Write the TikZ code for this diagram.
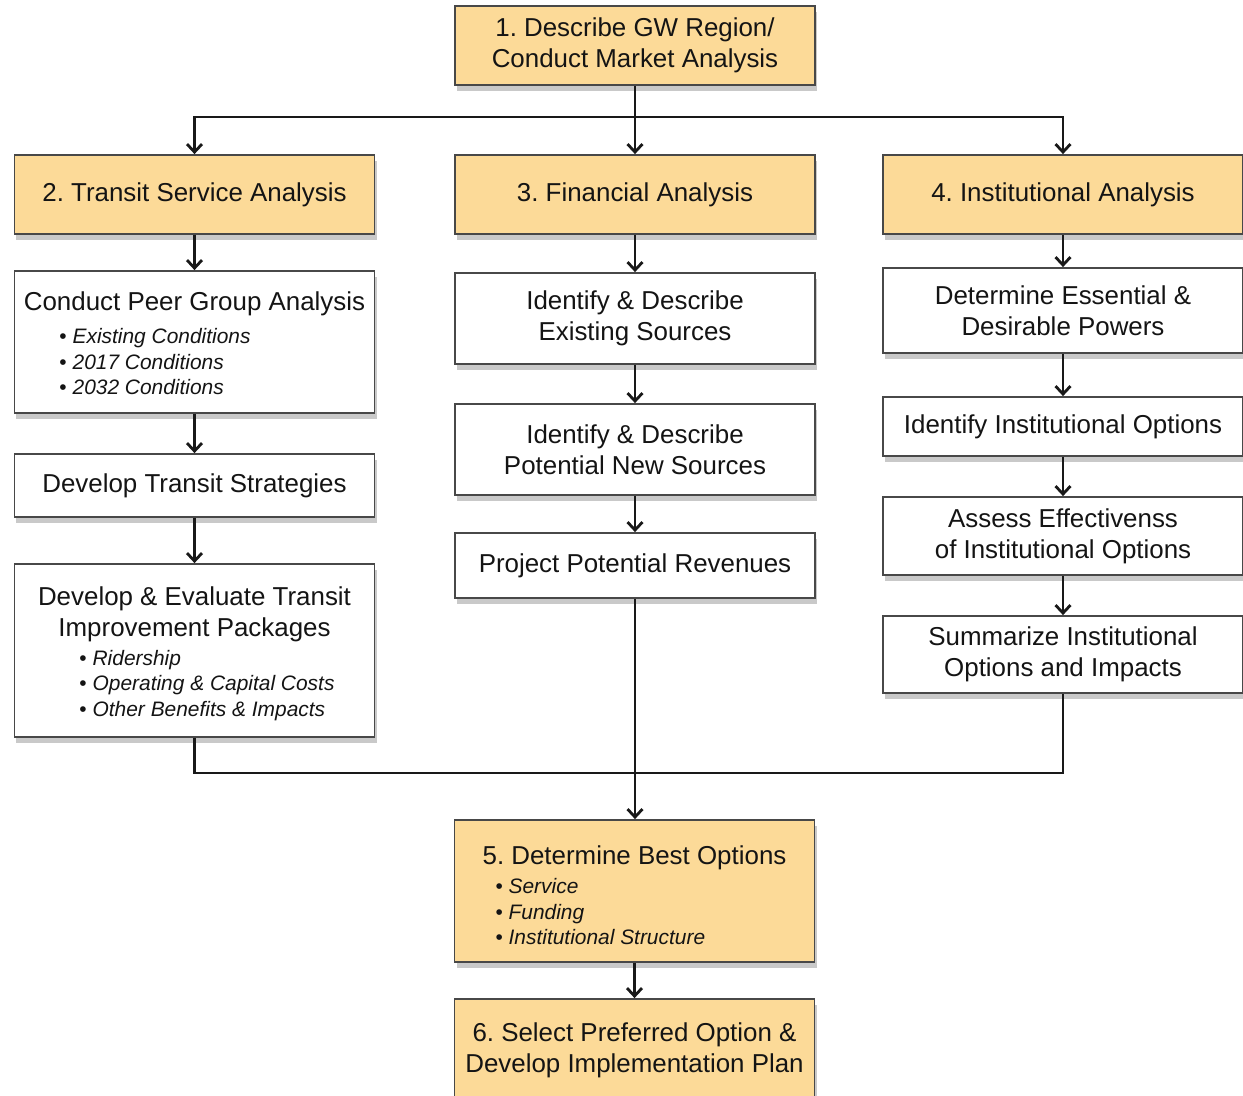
\documentclass[tikz,border=0pt]{standalone}
\usepackage{fontspec}
\setmainfont{Liberation Sans}
\usepackage{xcolor}
\usetikzlibrary{arrows.meta,shadows,shapes}

\definecolor{stepfill}{RGB}{252,218,152}
\definecolor{boxline}{RGB}{72,72,72}

\frenchspacing
\newcommand{\headline}[1]{\par\centerline{#1}}
\newcommand{\bulline}[2]{\par\hbox{\hspace*{#1}\textbullet\ \textit{#2}}}

\tikzset{
  box/.style={draw=boxline,line width=1.8bp,fill=white,rectangle,minimum width=360bp,inner sep=4bp,
    font=\fontsize{26}{31}\selectfont,text=black!92,align=center,
    drop shadow={shadow xshift=2bp,shadow yshift=-6bp,opacity=0.3,fill=black!70}},
  stepbox/.style={box,fill=stepfill},
  listbox/.style={box,text width=352bp,align=none},
  steplist/.style={listbox,fill=stepfill},
  flow/.style={line width=2.4bp,black!90},
  arr/.style={flow,-{Straight Barb[length=8bp,width=15bp,line width=2.8bp]}}
}

\begin{document}
\begin{tikzpicture}[x=1bp,y=-1bp]
\clip (0,0) rectangle (1243,1096);

\node (b1) at (635,45.5)[stepbox,minimum height=79bp] {1. Describe GW Region/\\Conduct Market Analysis};
\node (b2) at (194.5,194.5)[stepbox,minimum height=79bp] {2. Transit Service Analysis};
\node (b3) at (635,194.5)[stepbox,minimum height=79bp] {3. Financial Analysis};
\node (b4) at (1063,194.5)[stepbox,minimum height=79bp] {4. Institutional Analysis};

\node (t1) at (194.5,342)[listbox,minimum height=142bp] {\headline{Conduct Peer Group Analysis}
  \fontsize{21}{25.5}\selectfont\vspace{8bp}
  \bulline{41bp}{Existing Conditions}
  \bulline{41bp}{2017 Conditions}
  \bulline{41bp}{2032 Conditions}\par\vspace{10bp}};
\node (t2) at (194.5,485.5)[box,minimum height=63bp] {Develop Transit Strategies};
\node (t3) at (194.5,650.5)[listbox,minimum height=173bp] {\headline{Develop \& Evaluate Transit}
  \headline{Improvement Packages}
  \fontsize{21}{25.5}\selectfont\vspace{4bp}
  \bulline{61bp}{Ridership}
  \bulline{61bp}{Operating \& Capital Costs}
  \bulline{61bp}{Other Benefits \& Impacts}\par\vspace{6bp}};

\node (f1) at (635,318.5)[box,minimum height=91bp] {Identify \& Describe\\Existing Sources};
\node (f2) at (635,449.5)[box,minimum height=91bp] {Identify \& Describe\\Potential New Sources};
\node (f3) at (635,565.5)[box,minimum height=65bp] {Project Potential Revenues};

\node (i1) at (1063,310.5)[box,minimum height=85bp] {Determine Essential \&\\Desirable Powers};
\node (i2) at (1063,426.5)[box,minimum height=59bp] {Identify Institutional Options};
\node (i3) at (1063,536)[box,minimum height=78bp] {Assess Effectivenss\\of Institutional Options};
\node (i4) at (1063,654.5)[box,minimum height=77bp] {Summarize Institutional\\Options and Impacts};

\node (b5) at (634.5,891)[steplist,minimum height=142bp] {\headline{5. Determine Best Options}
  \fontsize{21}{25.5}\selectfont\vspace{4bp}
  \bulline{37bp}{Service}
  \bulline{37bp}{Funding}
  \bulline{37bp}{Institutional Structure}\par\vspace{4bp}};
\node (b6) at (634.5,1050)[stepbox,minimum height=102bp] {6. Select Preferred Option \&\\Develop Implementation Plan};

\coordinate (split) at (635,117);
\coordinate (join) at (635,773);

\draw [arr] (b1.south) -- (b3.north);
\draw [arr] (split) -| (b2.north);
\draw [arr] (split) -| (b4.north);
\draw [arr] (b2.south) -- (t1.north);
\draw [arr] (t1.south) -- (t2.north);
\draw [arr] (t2.south) -- (t3.north);
\draw [arr] (b3.south) -- (f1.north);
\draw [arr] (f1.south) -- (f2.north);
\draw [arr] (f2.south) -- (f3.north);
\draw [arr] (b4.south) -- (i1.north);
\draw [arr] (i1.south) -- (i2.north);
\draw [arr] (i2.south) -- (i3.north);
\draw [arr] (i3.south) -- (i4.north);
\draw [flow] (t3.south) |- (join) -| (i4.south);
\draw [arr] (f3.south) -- (f3.south |- b5.north);
\draw [arr] (b5.south) -- (b6.north);
\end{tikzpicture}
\end{document}
